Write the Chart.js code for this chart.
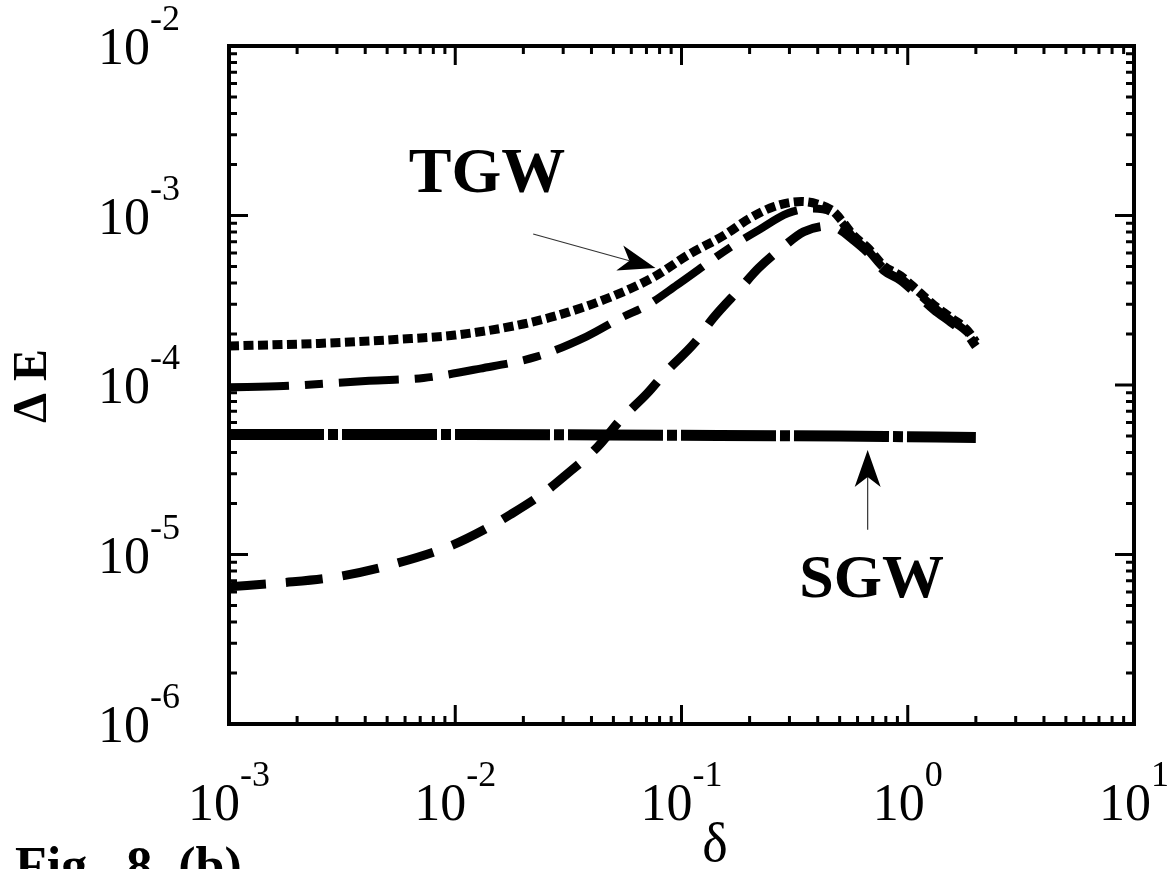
<!DOCTYPE html>
<html>
<head>
<meta charset="utf-8">
<script src="https://cdn.jsdelivr.net/npm/chart.js@4.4.1/dist/chart.umd.min.js"></script>
<style>
  html, body { margin: 0; padding: 0; background: #fff; }
  canvas { display: block; }
</style>
</head>
<body>
<canvas id="chart" width="1173" height="869"></canvas>
<script>
// Energy gap vs delta, three TGW curves and the flat SGW curve
const dotDelta = [0.001, 0.0025, 0.0056, 0.01, 0.02, 0.0316, 0.05, 0.076, 0.107, 0.155, 0.2, 0.257, 0.339, 0.398, 0.468, 0.515, 0.577, 0.665, 0.783, 0.931, 1.107, 1.303, 1.549, 1.841, 2.0];
const dotE = [1.70e-4, 1.76e-4, 1.86e-4, 1.97e-4, 2.29e-4, 2.69e-4, 3.35e-4, 4.36e-4, 5.85e-4, 7.67e-4, 9.62e-4, 1.13e-3, 1.21e-3, 1.17e-3, 1.06e-3, 9.2e-4, 7.6e-4, 6.45e-4, 5.05e-4, 4.40e-4, 3.60e-4, 2.97e-4, 2.50e-4, 2.09e-4, 1.79e-4];

const dashDotDelta = [0.001, 0.00174, 0.00417, 0.00724, 0.0129, 0.0229, 0.038, 0.0537, 0.0708, 0.0955, 0.166, 0.219, 0.295, 0.38, 0.457, 0.515, 0.577, 0.665, 0.783, 0.931, 1.107, 1.303, 1.549, 1.841, 2.0];
const dashDotE = [9.68e-5, 9.86e-5, 1.06e-4, 1.10e-4, 1.25e-4, 1.47e-4, 1.93e-4, 2.48e-4, 2.96e-4, 3.89e-4, 6.55e-4, 8.20e-4, 1.03e-3, 1.10e-3, 1.05e-3, 9.0e-4, 7.36e-4, 6.25e-4, 4.90e-4, 4.28e-4, 3.49e-4, 2.88e-4, 2.42e-4, 2.03e-4, 1.74e-4];

const dashDelta = [0.001, 0.00174, 0.00302, 0.0055, 0.00977, 0.0138, 0.0174, 0.0245, 0.0302, 0.0427, 0.0537, 0.0708, 0.0851, 0.115, 0.138, 0.182, 0.219, 0.282, 0.347, 0.447, 0.49, 0.577, 0.665, 0.783, 0.931, 1.107, 1.303, 1.549, 1.841, 2.0];
const dashE = [6.46e-6, 6.82e-6, 7.40e-6, 8.87e-6, 1.14e-5, 1.43e-5, 1.71e-5, 2.30e-5, 2.88e-5, 4.33e-5, 6.22e-5, 8.97e-5, 1.19e-4, 1.79e-4, 2.48e-4, 3.72e-4, 4.89e-4, 6.55e-4, 8.02e-4, 8.67e-4, 8.40e-4, 7.14e-4, 6.06e-4, 4.75e-4, 4.15e-4, 3.39e-4, 2.79e-4, 2.35e-4, 1.97e-4, 1.69e-4];

const sgwDelta = [0.001, 0.01, 0.1, 0.5, 1, 2];
const sgwE = [5.1e-5, 5.1e-5, 5.05e-5, 5.0e-5, 4.95e-5, 4.9e-5];

// axis decades and their exponent labels
const xDecades = [1e-3, 1e-2, 1e-1, 1, 10];
const xExponents = ['-3', '-2', '-1', '0', '1'];
const yDecades = [1e-6, 1e-5, 1e-4, 1e-3, 1e-2];
const yExponents = ['-6', '-5', '-4', '-3', '-2'];

// arrow annotations in data units: [tail delta, tail E, tip delta, tip E]
const tgwArrow = [0.0221, 7.78e-4, 0.0767, 4.90e-4];
const sgwArrow = [0.665, 1.40e-5, 0.665, 4.14e-5];

const SERIF = "'Liberation Serif', 'Times New Roman', serif";

function pts(xs, ys) {
    return xs.map((x, i) => ({ x: x, y: ys[i] }));
}

function drawPow(ctx, left, baseline, exp) {
    ctx.textAlign = 'left';
    ctx.textBaseline = 'alphabetic';
    ctx.font = '52px ' + SERIF;
    ctx.fillText('10', left, baseline);
    const w = ctx.measureText('10').width;
    ctx.font = '36px ' + SERIF;
    ctx.fillText(exp, left + w, baseline - 34);
}

function powWidth(ctx, exp) {
    ctx.font = '52px ' + SERIF;
    const w = ctx.measureText('10').width;
    ctx.font = '36px ' + SERIF;
    return w + ctx.measureText(exp).width;
}

function drawArrow(ctx, x0, y0, x1, y1) {
    const ang = Math.atan2(y1 - y0, x1 - x0);
    const len = 37, half = 13, notch = 27;
    ctx.lineWidth = 1.2;
    ctx.strokeStyle = '#333';
    ctx.beginPath();
    ctx.moveTo(x0, y0);
    ctx.lineTo(x1 - notch * Math.cos(ang), y1 - notch * Math.sin(ang));
    ctx.stroke();
    ctx.save();
    ctx.translate(x1, y1);
    ctx.rotate(ang);
    ctx.fillStyle = '#000';
    ctx.beginPath();
    ctx.moveTo(0, 0);
    ctx.lineTo(-len, -half);
    ctx.lineTo(-notch, 0);
    ctx.lineTo(-len, half);
    ctx.closePath();
    ctx.fill();
    ctx.restore();
}

// frame with inward ticks on all four sides, labels and annotations
const framePlugin = {
    id: 'frame',
    afterDatasetsDraw(chart) {
        const { ctx, chartArea: a, scales: { x, y } } = chart;
        const minors = [2, 3, 4, 5, 6, 7, 8, 9];
        ctx.save();
        ctx.strokeStyle = '#000';
        ctx.fillStyle = '#000';
        ctx.lineWidth = 3;
        ctx.lineCap = 'butt';

        const tickX = (px, len) => {
            ctx.beginPath();
            ctx.moveTo(px, a.bottom); ctx.lineTo(px, a.bottom - len);
            ctx.moveTo(px, a.top); ctx.lineTo(px, a.top + len);
            ctx.stroke();
        };
        const tickY = (py, len) => {
            ctx.beginPath();
            ctx.moveTo(a.left, py); ctx.lineTo(a.left + len, py);
            ctx.moveTo(a.right, py); ctx.lineTo(a.right - len, py);
            ctx.stroke();
        };

        xDecades.forEach((v, i) => {
            tickX(x.getPixelForValue(v), 19);
            if (i < xDecades.length - 1) minors.forEach(m => tickX(x.getPixelForValue(v * m), 8));
        });
        yDecades.forEach((v, i) => {
            tickY(y.getPixelForValue(v), 19);
            if (i < yDecades.length - 1) minors.forEach(m => tickY(y.getPixelForValue(v * m), 8));
        });

        ctx.lineWidth = 4;
        ctx.strokeRect(a.left, a.top, a.right - a.left, a.bottom - a.top);

        // tick labels
        xDecades.forEach((v, i) => {
            const w = powWidth(ctx, xExponents[i]);
            drawPow(ctx, x.getPixelForValue(v) - w / 2, a.bottom + 96, xExponents[i]);
        });
        yDecades.forEach((v, i) => {
            const w = powWidth(ctx, yExponents[i]);
            drawPow(ctx, a.left - 49 - w, y.getPixelForValue(v) + 18, yExponents[i]);
        });

        // axis titles
        ctx.textAlign = 'center';
        ctx.font = '54px ' + SERIF;
        ctx.fillText('δ', 715, 861);
        ctx.save();
        ctx.translate(46, 386);
        ctx.rotate(-Math.PI / 2);
        ctx.font = 'bold 48px ' + SERIF;
        ctx.fillText('Δ E', 0, 0);
        ctx.restore();

        ctx.textAlign = 'left';
        ctx.font = 'bold 52px ' + SERIF;
        ctx.fillText('Fig.  8  (b)', 15, 883);

        // curve labels with arrows
        ctx.textAlign = 'center';
        ctx.font = 'bold 64px ' + SERIF;
        ctx.fillText('TGW', 487, 192);
        ctx.font = 'bold 62px ' + SERIF;
        ctx.fillText('SGW', x.getPixelForValue(sgwArrow[0]) + 4, 597);

        drawArrow(ctx,
            x.getPixelForValue(tgwArrow[0]), y.getPixelForValue(tgwArrow[1]),
            x.getPixelForValue(tgwArrow[2]), y.getPixelForValue(tgwArrow[3]));
        drawArrow(ctx,
            x.getPixelForValue(sgwArrow[0]), y.getPixelForValue(sgwArrow[1]),
            x.getPixelForValue(sgwArrow[2]), y.getPixelForValue(sgwArrow[3]));
        ctx.restore();
    }
};

const common = {
    showLine: true,
    pointRadius: 0,
    borderColor: '#000',
    borderCapStyle: 'butt',
    borderJoinStyle: 'round',
    cubicInterpolationMode: 'monotone',
    fill: false
};

new Chart(document.getElementById('chart').getContext('2d'), {
    type: 'scatter',
    data: {
        datasets: [
            Object.assign({ label: 'SGW', data: pts(sgwDelta, sgwE), borderWidth: 11, borderDash: [95, 4, 10, 4] }, common),
            Object.assign({ label: 'TGW dash', data: pts(dashDelta, dashE), borderWidth: 9, borderDash: [37, 20] }, common),
            Object.assign({ label: 'TGW dash-dot', data: pts(dashDotDelta, dashDotE), borderWidth: 8, borderDash: [60, 16, 18, 16] }, common),
            Object.assign({ label: 'TGW dot', data: pts(dotDelta, dotE), borderWidth: 9, borderDash: [10, 4.5] }, common)
        ]
    },
    options: {
        responsive: false,
        animation: false,
        devicePixelRatio: 1,
        layout: { padding: { left: 229, right: 39, top: 46, bottom: 145 } },
        scales: {
            x: { type: 'logarithmic', min: 1e-3, max: 10, display: false },
            y: { type: 'logarithmic', min: 1e-6, max: 1e-2, display: false }
        },
        plugins: {
            legend: { display: false },
            tooltip: { enabled: false }
        }
    },
    plugins: [framePlugin]
});
</script>
</body>
</html>
